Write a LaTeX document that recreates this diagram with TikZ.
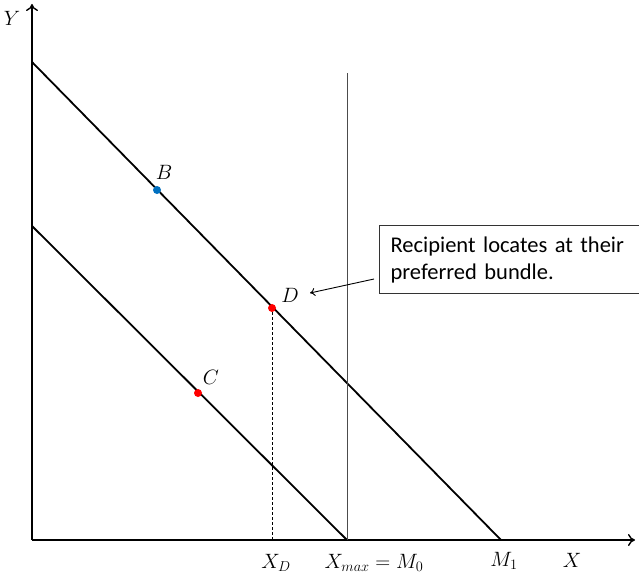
\documentclass[tikz,border=0pt]{standalone}
\usepackage{fontspec}
\newfontfamily\boxfont{Carlito}
\usetikzlibrary{arrows.meta}
\begin{document}
\begin{tikzpicture}[x=1pt,y=-1pt,
  axis/.style={line width=1.8pt,-{To[length=7pt,width=12pt,line width=1.4pt]}},
  budget/.style={line width=1.8pt},
  dotpt/.style={circle,inner sep=0pt,minimum size=8pt},
  lbl/.style={font=\fontsize{19.5}{22}\selectfont,inner sep=1pt},
  note/.style={draw=black!80,line width=1.2pt,font=\boxfont\fontsize{22.5}{27}\selectfont,align=left,text width=250pt,inner xsep=11pt,inner ysep=11pt,anchor=north west}
]
\useasboundingbox (0,0) rectangle (639,578);
\coordinate (O) at (32,540);
\coordinate (Ytop) at (32,4);
\coordinate (Xend) at (635,540);
\coordinate (A1) at (32,62);
\coordinate (M1) at (501,540);
\coordinate (A0) at (32,226);
\coordinate (M0) at (347,540);
\coordinate (Vtop) at (347,73);
\coordinate (XD) at (272,540);

\draw[axis] (O) -- (Ytop);
\draw[axis] (O) -- (Xend);
\draw[budget] (A1) -- (M1);
\draw[budget] (A0) -- (M0);
\draw[line width=0.7pt,black!70] (M0) -- (Vtop);

\node[dotpt,fill={rgb,255:red,0;green,112;blue,192}] (B) at (157,190) {};
\node[dotpt,fill=red] (D) at (272,308) {};
\node[dotpt,fill=red] (C) at (198,393) {};
\draw[dashed,line width=0.6pt,dash pattern=on 2.5pt off 2.5pt] (D) -- (XD);

\node[lbl] (Ylab) at (12,18) {$Y$};
\node[lbl] (Blab) at (164,172) {$B$};
\node[lbl] (Dlab) at (290,295) {$D$};
\node[lbl] (Clab) at (211,377) {$C$};
\node[lbl] (XDlab) at (276,563) {$X_D$};
\node[lbl] (Xmaxlab) at (374,563) {$X_{max}=M_0$};
\node[lbl] (M1lab) at (504,561) {$M_1$};
\node[lbl] (Xlab) at (572,560) {$X$};

\node[note] (box) at (379,225) {Recipient locates at their\\preferred bundle.};
\draw[line width=0.9pt,-{To[length=5pt,width=8pt]}] (374,279) -- (310,293);
\end{tikzpicture}
\end{document}
